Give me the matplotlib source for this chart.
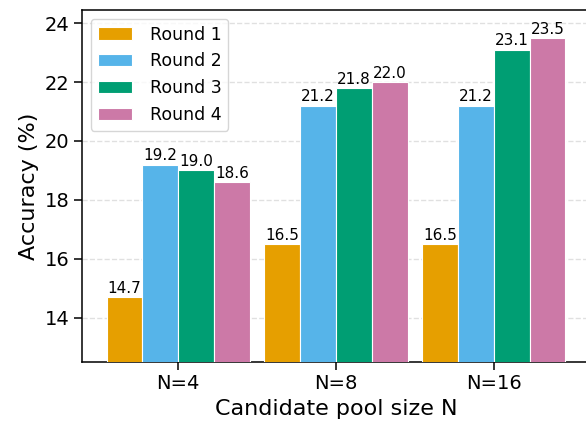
# -*- coding: utf-8 -*-
import numpy as np
import matplotlib as mpl
mpl.use('Agg')
import matplotlib.pyplot as plt

groups = ['N=4', 'N=8', 'N=16']
rounds = ['Round 1', 'Round 2', 'Round 3', 'Round 4']
colors = ['#E69F00', '#56B4E9', '#009E73', '#CC79A7']
acc = [
    [14.7, 16.5, 16.5],   # round 1
    [19.2, 21.2, 21.2],   # round 2
    [19.0, 21.8, 23.1],   # round 3
    [18.6, 22.0, 23.5],   # round 4
]

fig = plt.figure(figsize=(5.86, 4.26), dpi=100)
ax = fig.add_axes([82/586, 1-361.7/426, 508/586, 351.7/426])

x = np.arange(len(groups))
w = 0.227
for i, (r, c) in enumerate(zip(rounds, colors)):
    bars = ax.bar(x + (i - 1.5)*w, acc[i], w, color=c, edgecolor='white',
                  linewidth=0.8, label=r, zorder=3)
    ax.bar_label(bars, labels=['%.1f' % v for v in acc[i]], fontsize=11, padding=1)

ax.set_xlim(-0.61, 2.61)
ax.set_ylim(12.5, 24.45)
ax.set_yticks([14, 16, 18, 20, 22, 24])
ax.set_xticks(x)
ax.set_xticklabels(groups)
ax.tick_params(labelsize=14, length=5.5, width=1.1)
for s in ax.spines.values():
    s.set_linewidth(1.1)
ax.spines['right'].set_visible(False)
ax.set_xlabel('Candidate pool size N', fontsize=16)
ax.set_ylabel('Accuracy (%)', fontsize=16)
ax.yaxis.grid(True, linestyle='--', color='#cccccc', alpha=0.6, linewidth=1, zorder=0)
ax.set_axisbelow(True)
ax.legend(loc='upper left', fontsize=12.5, handletextpad=1.0)

plt.savefig('out.png', dpi=100)
plt.close('all')
